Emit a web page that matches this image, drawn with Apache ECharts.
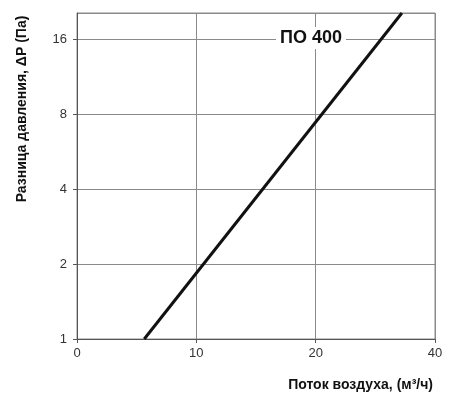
<!DOCTYPE html>
<html><head><meta charset="utf-8">
<script src="https://cdn.jsdelivr.net/npm/echarts@6/dist/echarts.min.js"></script>
<style>html,body{margin:0;padding:0;background:#fff}#c{width:450px;height:399px}</style>
</head><body><div id="c"></div>
<script>
// Data (flow m3/h, pressure Pa)
const flow = [7.39, 33.0];
const pressure = [1.0, 20.4];
const xTickValues = [5, 10, 20, 40];
const xTickLabels = ['0', '10', '20', '40'];
const yTicks = [1, 2, 4, 8, 16];
const seriesName = 'ПО 400';
const xName = 'Поток воздуха, (м³/ч)';
const yName = 'Разница давления, ΔP (Па)';

const toX = q => Math.log2(q / xTickValues[0]);
const chart = echarts.init(document.getElementById('c'));
const font = 'Liberation Sans, Arial, sans-serif';
chart.setOption({
  animation: false,
  grid: {left: 77, right: 15, top: 13, bottom: 60, show: true, borderColor: '#8a8a8a', borderWidth: 1},
  xAxis: {
    type: 'value', min: 0, max: xTickValues.length - 1, interval: 1,
    axisLine: {show: true, lineStyle: {color: '#555', width: 1}},
    axisTick: {show: true, length: 4, lineStyle: {color: '#555'}},
    splitLine: {show: true, lineStyle: {color: '#8a8a8a', width: 1}},
    axisLabel: {color: '#333', fontSize: 13, fontFamily: font, margin: 8,
      formatter: v => xTickLabels[Math.round(v)]}
  },
  yAxis: {
    type: 'log', logBase: 2, min: yTicks[0], max: pressure[1],
    axisLine: {show: true, lineStyle: {color: '#555', width: 1}},
    axisTick: {show: true, length: 4, lineStyle: {color: '#555'}},
    splitLine: {show: true, lineStyle: {color: '#8a8a8a', width: 1}},
    minorTick: {show: false},
    axisLabel: {color: '#333', fontSize: 13, fontFamily: font, margin: 10, showMaxLabel: false,
      formatter: v => (yTicks.indexOf(Math.round(v)) >= 0 && Math.abs(v - Math.round(v)) < 1e-6) ? String(Math.round(v)) : ''}
  },
  series: [{
    name: seriesName, type: 'line', symbol: 'none',
    lineStyle: {color: '#111', width: 3},
    data: flow.map((q, i) => [toX(q), pressure[i]])
  }],
  graphic: [
    {type: 'text', x: 311, y: 38, z: 100,
      style: {text: seriesName, fontSize: 18, fontWeight: 'bold', fontFamily: font, fill: '#111',
        align: 'center', verticalAlign: 'middle', backgroundColor: '#fff', padding: [2, 4]}},
    {type: 'text', x: 433, y: 385,
      style: {text: xName, fontSize: 14, fontWeight: 'bold', fontFamily: font, fill: '#111',
        align: 'right', verticalAlign: 'middle'}},
    {type: 'text', x: 22, y: 109, rotation: Math.PI / 2,
      style: {text: yName, fontSize: 14, fontWeight: 'bold', fontFamily: font, fill: '#111',
        align: 'center', verticalAlign: 'middle'}}
  ]
});
</script></body></html>
